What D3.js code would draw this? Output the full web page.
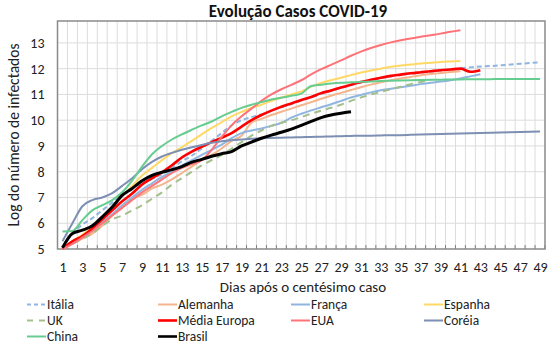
<!DOCTYPE html>
<html>
<head>
<meta charset="utf-8">
<script src="https://cdn.jsdelivr.net/npm/d3@7/dist/d3.min.js"></script>
<style>
  html, body { margin: 0; padding: 0; background: #fff; }
  svg { display: block; font-family: Carlito, Lato, "Liberation Sans", sans-serif; }
</style>
</head>
<body>
<svg id="chart" width="554" height="345"></svg>
<script>
// Days after the 100th confirmed case (category axis)
const days = [1,2,3,4,5,6,7,8,9,10,11,12,13,14,15,16,17,18,19,20,21,22,23,24,25,
  26,27,28,29,30,31,32,33,34,35,36,37,38,39,40,41,42,43,44,45,46,47,48,49];
const xTickLabels = [1,3,5,7,9,11,13,15,17,19,21,23,25,27,29,31,33,35,37,39,41,43,45,47,49];
const yTickValues = [5,6,7,8,9,10,11,12,13];

// Natural log of cumulative infected, one value per day
const italia = [5.05,5.6,5.95,6.2,6.5,6.8,7.1,7.35,7.55,7.72,7.9,8.15,8.4,8.62,8.9,9.2,9.5,9.8,10.0,10.12,
  10.22,10.36,10.5,10.63,10.76,10.88,11.02,11.13,11.25,11.36,11.46,11.55,11.63,11.7,11.76,11.81,11.85,11.89,11.93,11.97,
  12.01,12.05,12.08,12.1,12.13,12.16,12.19,12.22,12.25];
const alemanha = [5.0,5.2,5.4,5.6,5.9,6.3,6.6,6.95,7.1,7.35,7.5,7.7,7.95,8.2,8.45,8.65,8.9,9.2,9.4,9.9,
  10.05,10.2,10.33,10.45,10.58,10.7,10.83,10.95,11.06,11.17,11.28,11.38,11.47,11.55,11.62,11.68,11.74,11.79,11.83,11.87,11.9];
const franca = [5.0,5.25,5.5,5.75,6.05,6.35,6.7,7.0,7.3,7.55,7.8,8.0,8.25,8.45,8.65,8.85,9.05,9.3,9.5,9.6,
  9.68,9.78,9.9,10.1,10.25,10.38,10.5,10.62,10.75,10.88,10.98,11.08,11.16,11.22,11.28,11.34,11.4,11.45,11.5,11.55,
  11.62,11.7,11.78];
const espanha = [5.0,5.3,5.55,5.85,6.25,6.65,7.05,7.45,7.85,8.15,8.45,8.72,8.95,9.2,9.45,9.7,9.92,10.15,10.32,10.48,
  10.6,10.75,10.88,11.0,11.12,11.3,11.45,11.55,11.65,11.75,11.85,11.93,12.0,12.07,12.12,12.16,12.2,12.23,12.26,12.28,12.3];
const uk = [5.0,5.2,5.4,5.6,5.9,6.15,6.3,6.5,6.7,6.95,7.2,7.5,7.75,8.0,8.25,8.45,8.65,8.9,9.15,9.4,
  9.6,9.78,9.9,10.0,10.12,10.25,10.37,10.48,10.6,10.75,10.88,11.0,11.1,11.2,11.3,11.4,11.48,11.56];
const mediaEuropa = [5.0,5.3,5.5,5.8,6.15,6.5,6.85,7.15,7.5,7.75,7.98,8.25,8.55,8.78,8.97,9.15,9.32,9.5,9.75,10.0,
  10.2,10.37,10.52,10.65,10.78,10.9,11.05,11.15,11.27,11.38,11.48,11.57,11.65,11.72,11.77,11.82,11.86,11.9,11.94,11.97,
  12.0,11.88,11.94];
const eua = [5.0,5.2,5.45,5.7,6.0,6.3,6.6,6.9,7.2,7.45,7.7,7.95,8.15,8.3,8.45,8.85,9.35,9.8,10.15,10.45,
  10.75,11.0,11.2,11.37,11.55,11.78,11.98,12.15,12.32,12.5,12.66,12.8,12.92,13.02,13.1,13.17,13.24,13.3,13.36,13.43,13.49];
const coreia = [5.3,6.0,6.66,6.9,7.0,7.17,7.45,7.75,8.1,8.38,8.59,8.73,8.85,8.95,9.04,9.12,9.18,9.22,9.25,9.28,
  9.3,9.31,9.32,9.33,9.34,9.35,9.36,9.37,9.38,9.39,9.4,9.4,9.41,9.42,9.42,9.43,9.44,9.45,9.46,9.47,
  9.48,9.49,9.5,9.51,9.52,9.53,9.54,9.55,9.56];
const china = [5.68,5.7,6.12,6.5,6.7,6.9,7.2,7.65,8.2,8.68,9.0,9.25,9.45,9.63,9.8,9.95,10.15,10.32,10.48,10.6,
  10.7,10.8,10.87,10.95,11.03,11.33,11.38,11.42,11.45,11.47,11.49,11.5,11.52,11.53,11.54,11.55,11.56,11.57,11.57,11.58,
  11.58,11.59,11.59,11.59,11.6,11.6,11.6,11.6,11.6];
const brasil = [5.05,5.6,5.73,5.9,6.25,6.63,7.08,7.35,7.65,7.86,7.98,8.08,8.2,8.37,8.48,8.6,8.7,8.78,9.0,9.15,
  9.3,9.42,9.53,9.65,9.8,9.95,10.1,10.2,10.27,10.33];

// Series in drawing order, with their styles
const series = [
  { name: "Itália",       values: italia,      color: "#8fb5e0", width: 2,   dash: "5,3" },
  { name: "Alemanha",     values: alemanha,    color: "#f5b48c", width: 2,   dash: null },
  { name: "França",       values: franca,      color: "#8fb5e0", width: 2,   dash: null },
  { name: "Espanha",      values: espanha,     color: "#ffd966", width: 2,   dash: null },
  { name: "UK",           values: uk,          color: "#a3bf8c", width: 2,   dash: "7,5" },
  { name: "Média Europa", values: mediaEuropa, color: "#ff0000", width: 2.6, dash: null },
  { name: "EUA",          values: eua,         color: "#ff7378", width: 2,   dash: null },
  { name: "Coréia",       values: coreia,      color: "#7d8fb3", width: 2,   dash: null },
  { name: "China",        values: china,       color: "#66cc8f", width: 2,   dash: null },
  { name: "Brasil",       values: brasil,      color: "#000000", width: 3,   dash: null }
];

const svg = d3.select("#chart");
const plot = { left: 57.5, right: 545, top: 21, bottom: 249 };

const x = d3.scalePoint().domain(days).range([plot.left, plot.right]).padding(0.5);
const y = d3.scaleLinear().domain([5, 13.85]).range([plot.bottom, plot.top]);
const step = x.step();

// Gridlines
const grid = svg.append("g");
grid.selectAll("line.v").data(days.slice(1)).join("line")
  .attr("x1", d => x(d) - step / 2).attr("x2", d => x(d) - step / 2)
  .attr("y1", plot.top).attr("y2", plot.bottom)
  .attr("stroke", "#dcdcdc").attr("stroke-width", 1);
grid.selectAll("line.h").data(yTickValues.slice(1)).join("line")
  .attr("x1", plot.left).attr("x2", plot.right)
  .attr("y1", d => y(d)).attr("y2", d => y(d))
  .attr("stroke", "#dcdcdc").attr("stroke-width", 1);

// Category tick marks along the bottom axis
svg.append("g").selectAll("line").data(days).join("line")
  .attr("x1", d => x(d) + step / 2).attr("x2", d => x(d) + step / 2)
  .attr("y1", plot.bottom - 4).attr("y2", plot.bottom)
  .attr("stroke", "#808080").attr("stroke-width", 1);

// Plot frame
svg.append("rect")
  .attr("x", plot.left).attr("y", plot.top)
  .attr("width", plot.right - plot.left).attr("height", plot.bottom - plot.top)
  .attr("fill", "none").attr("stroke", "#8a8a8a").attr("stroke-width", 1.5);

// Axes labels
const xAxis = svg.append("g").attr("transform", `translate(0,${plot.bottom})`)
  .call(d3.axisBottom(x).tickValues(xTickLabels).tickSize(0).tickPadding(13));
const yAxis = svg.append("g").attr("transform", `translate(${plot.left},0)`)
  .call(d3.axisLeft(y).tickValues(yTickValues).tickSize(0).tickPadding(13));
[xAxis, yAxis].forEach(g => {
  g.select(".domain").remove();
  g.selectAll("text").attr("font-size", 14).attr("fill", "#222")
    .attr("font-family", "Carlito, Lato, sans-serif");
});

// Lines
const line = d3.line()
  .x((d, i) => x(days[i]))
  .y(d => y(d))
  .curve(d3.curveMonotoneX);

svg.append("g").selectAll("path").data(series).join("path")
  .attr("d", s => line(s.values))
  .attr("fill", "none")
  .attr("stroke", s => s.color)
  .attr("stroke-width", s => s.width)
  .attr("stroke-dasharray", s => s.dash)
  .attr("stroke-linejoin", "round");

// Titles
svg.append("text").attr("x", 298).attr("y", 17).attr("text-anchor", "middle")
  .attr("font-size", 17).attr("font-weight", "bold").attr("fill", "#111")
  .text("Evolução Casos COVID-19");
svg.append("text").attr("x", 303).attr("y", 292).attr("text-anchor", "middle")
  .attr("font-size", 15).attr("fill", "#222")
  .text("Dias após o centésimo caso");
svg.append("text").attr("transform", "translate(19,135) rotate(-90)")
  .attr("text-anchor", "middle")
  .attr("font-size", 15.5).attr("fill", "#222")
  .text("Log do número de infectados");

// Legend: four columns, three rows
const colX = [27, 158, 291, 424];
const rowY = [304.5, 320.5, 336.5];
const legend = svg.append("g").selectAll("g").data(series).join("g")
  .attr("transform", (s, i) => `translate(${colX[i % 4]},${rowY[Math.floor(i / 4)]})`);
legend.append("line")
  .attr("x1", 0).attr("x2", 19).attr("y1", 0).attr("y2", 0)
  .attr("stroke", s => s.color)
  .attr("stroke-width", s => Math.min(s.width, 2.6))
  .attr("stroke-dasharray", s => s.dash ? (s.name === "UK" ? "6,6" : "4,3") : null);
legend.append("text")
  .attr("x", 20).attr("y", 0).attr("dy", "0.35em")
  .attr("font-size", 13.5).attr("fill", "#222")
  .text(s => s.name);
</script>
</body>
</html>
